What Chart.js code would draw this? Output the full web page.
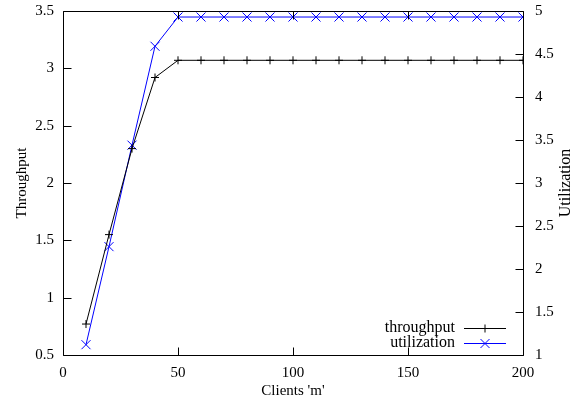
<!DOCTYPE html>
<html>
<head>
<meta charset="utf-8">
<script src="https://cdn.jsdelivr.net/npm/chart.js@4/dist/chart.umd.min.js"></script>
<style>
html,body{margin:0;padding:0;background:#fff;}
#wrap{width:579px;height:402px;}
</style>
</head>
<body>
<div id="wrap"><canvas id="c" width="579" height="402"></canvas></div>
<script>
const clients = [10, 20, 30, 40, 50, 60, 70, 80, 90, 100, 110, 120, 130, 140, 150, 160, 170, 180, 190, 200];
const throughput = [0.77, 1.55, 2.30, 2.92, 3.07, 3.07, 3.07, 3.07, 3.07, 3.07, 3.07, 3.07, 3.07, 3.07, 3.07, 3.07, 3.07, 3.07, 3.07, 3.07];
const utilization = [1.12, 2.26, 3.44, 4.59, 4.93, 4.93, 4.93, 4.93, 4.93, 4.93, 4.93, 4.93, 4.93, 4.93, 4.93, 4.93, 4.93, 4.93, 4.93, 4.93];
const xTicks = [0, 50, 100, 150, 200];
const yTicks = [0.5, 1, 1.5, 2, 2.5, 3, 3.5];
const y2Ticks = [1, 1.5, 2, 2.5, 3, 3.5, 4, 4.5, 5];
const seriesNames = ['throughput', 'utilization'];
const xTitle = "Clients 'm'";
const yTitle = 'Throughput';
const y2Title = 'Utilization';

const FONT = 'Liberation Serif';
const colors = ['#000000', '#0000ff'];
const fmt = v => String(v);

const framePlugin = {
  id: 'frame',
  afterDatasetsDraw(chart) {
    const ctx = chart.ctx;
    const a = chart.chartArea;
    const sx = chart.scales.x, sy = chart.scales.y, sy2 = chart.scales.y2;
    const L = Math.round(a.left) + 0.5, R = Math.round(a.right) + 0.5;
    const T = Math.round(a.top) + 0.5, B = Math.round(a.bottom) + 0.5;
    const tl = 8;
    ctx.save();
    ctx.strokeStyle = '#000';
    ctx.lineWidth = 1;
    ctx.beginPath();
    ctx.rect(L, T, R - L, B - T);
    xTicks.forEach(v => {
      const x = Math.round(sx.getPixelForValue(v)) + 0.5;
      ctx.moveTo(x, B); ctx.lineTo(x, B - tl);
      ctx.moveTo(x, T); ctx.lineTo(x, T + tl);
    });
    yTicks.forEach(v => {
      const y = Math.round(sy.getPixelForValue(v)) + 0.5;
      ctx.moveTo(L, y); ctx.lineTo(L + tl, y);
    });
    y2Ticks.forEach(v => {
      const y = Math.round(sy2.getPixelForValue(v)) + 0.5;
      ctx.moveTo(R, y); ctx.lineTo(R - tl, y);
    });
    ctx.stroke();

    // right axis title, reading bottom to top
    ctx.font = '16px "' + FONT + '"';
    ctx.fillStyle = '#000';
    ctx.save();
    ctx.translate(566, (a.top + a.bottom) / 2);
    ctx.rotate(-Math.PI / 2);
    ctx.textAlign = 'center';
    ctx.textBaseline = 'middle';
    ctx.fillText(y2Title, 0, 0);
    ctx.restore();

    // legend (inside, bottom right)
    ctx.textAlign = 'right';
    ctx.textBaseline = 'middle';
    const rows = [328, 342.5];
    chart.data.datasets.forEach((ds, i) => {
      const y = rows[i];
      ctx.fillStyle = '#000';
      ctx.fillText(seriesNames[i], 455, y);
      ctx.strokeStyle = ds.borderColor;
      ctx.beginPath();
      ctx.moveTo(464, Math.round(y) + 0.5);
      ctx.lineTo(506, Math.round(y) + 0.5);
      ctx.stroke();
      const cx = 485, cy = Math.round(y) + 0.5;
      ctx.beginPath();
      if (i === 0) {
        ctx.moveTo(cx - 4, cy); ctx.lineTo(cx + 4, cy);
        ctx.moveTo(cx, cy - 4); ctx.lineTo(cx, cy + 4);
      } else {
        ctx.moveTo(cx - 4.5, cy - 4.5); ctx.lineTo(cx + 4.5, cy + 4.5);
        ctx.moveTo(cx - 4.5, cy + 4.5); ctx.lineTo(cx + 4.5, cy - 4.5);
      }
      ctx.stroke();
    });
    ctx.restore();
  }
};

function fitV(w) {
  return s => { s.width = w; s.paddingTop = 0; s.paddingBottom = 0; };
}

new Chart(document.getElementById('c'), {
  type: 'line',
  data: {
    datasets: [
      {
        label: seriesNames[0],
        data: clients.map((c, i) => ({x: c, y: throughput[i]})),
        yAxisID: 'y',
        borderColor: colors[0],
        backgroundColor: colors[0],
        borderWidth: 1,
        pointStyle: 'cross',
        pointRadius: 4,
        pointBorderWidth: 1,
        pointBorderColor: colors[0],
        tension: 0,
        fill: false
      },
      {
        label: seriesNames[1],
        data: clients.map((c, i) => ({x: c, y: utilization[i]})),
        yAxisID: 'y2',
        borderColor: colors[1],
        backgroundColor: colors[1],
        borderWidth: 1,
        pointStyle: 'crossRot',
        pointRadius: 6.4,
        pointBorderWidth: 1,
        pointBorderColor: colors[1],
        tension: 0,
        fill: false
      }
    ]
  },
  options: {
    responsive: false,
    animation: false,
    devicePixelRatio: 1,
    layout: { padding: { top: 11, left: 0, right: 0, bottom: 0 } },
    plugins: { legend: { display: false }, tooltip: { enabled: false } },
    scales: {
      x: {
        type: 'linear', min: 0, max: 200,
        afterBuildTicks: s => { s.ticks = xTicks.map(v => ({value: v})); },
        afterFit: s => { s.height = 47; s.paddingLeft = 0; s.paddingRight = 0; },
        grid: { display: false, drawTicks: false },
        border: { display: false },
        ticks: { color: '#000', padding: 9, maxRotation: 0, callback: fmt, font: { family: FONT, size: 15 } },
        title: { display: true, text: xTitle, color: '#000', font: { family: FONT, size: 15 }, padding: { top: 0, bottom: 2 } }
      },
      y: {
        type: 'linear', position: 'left', min: 0.5, max: 3.5,
        afterBuildTicks: s => { s.ticks = yTicks.map(v => ({value: v})); },
        afterFit: fitV(63),
        grid: { display: false, drawTicks: false },
        border: { display: false },
        ticks: { color: '#000', padding: 9, callback: fmt, font: { family: FONT, size: 15 } },
        title: { display: true, text: yTitle, color: '#000', font: { family: FONT, size: 15 }, padding: { top: 13, bottom: 0 } }
      },
      y2: {
        type: 'linear', position: 'right', min: 1, max: 5,
        afterBuildTicks: s => { s.ticks = y2Ticks.map(v => ({value: v})); },
        afterFit: fitV(56),
        grid: { display: false, drawTicks: false },
        border: { display: false },
        ticks: { color: '#000', padding: 12, callback: fmt, font: { family: FONT, size: 15 } },
        title: { display: false, text: y2Title }
      }
    }
  },
  plugins: [framePlugin]
});
</script>
</body>
</html>
